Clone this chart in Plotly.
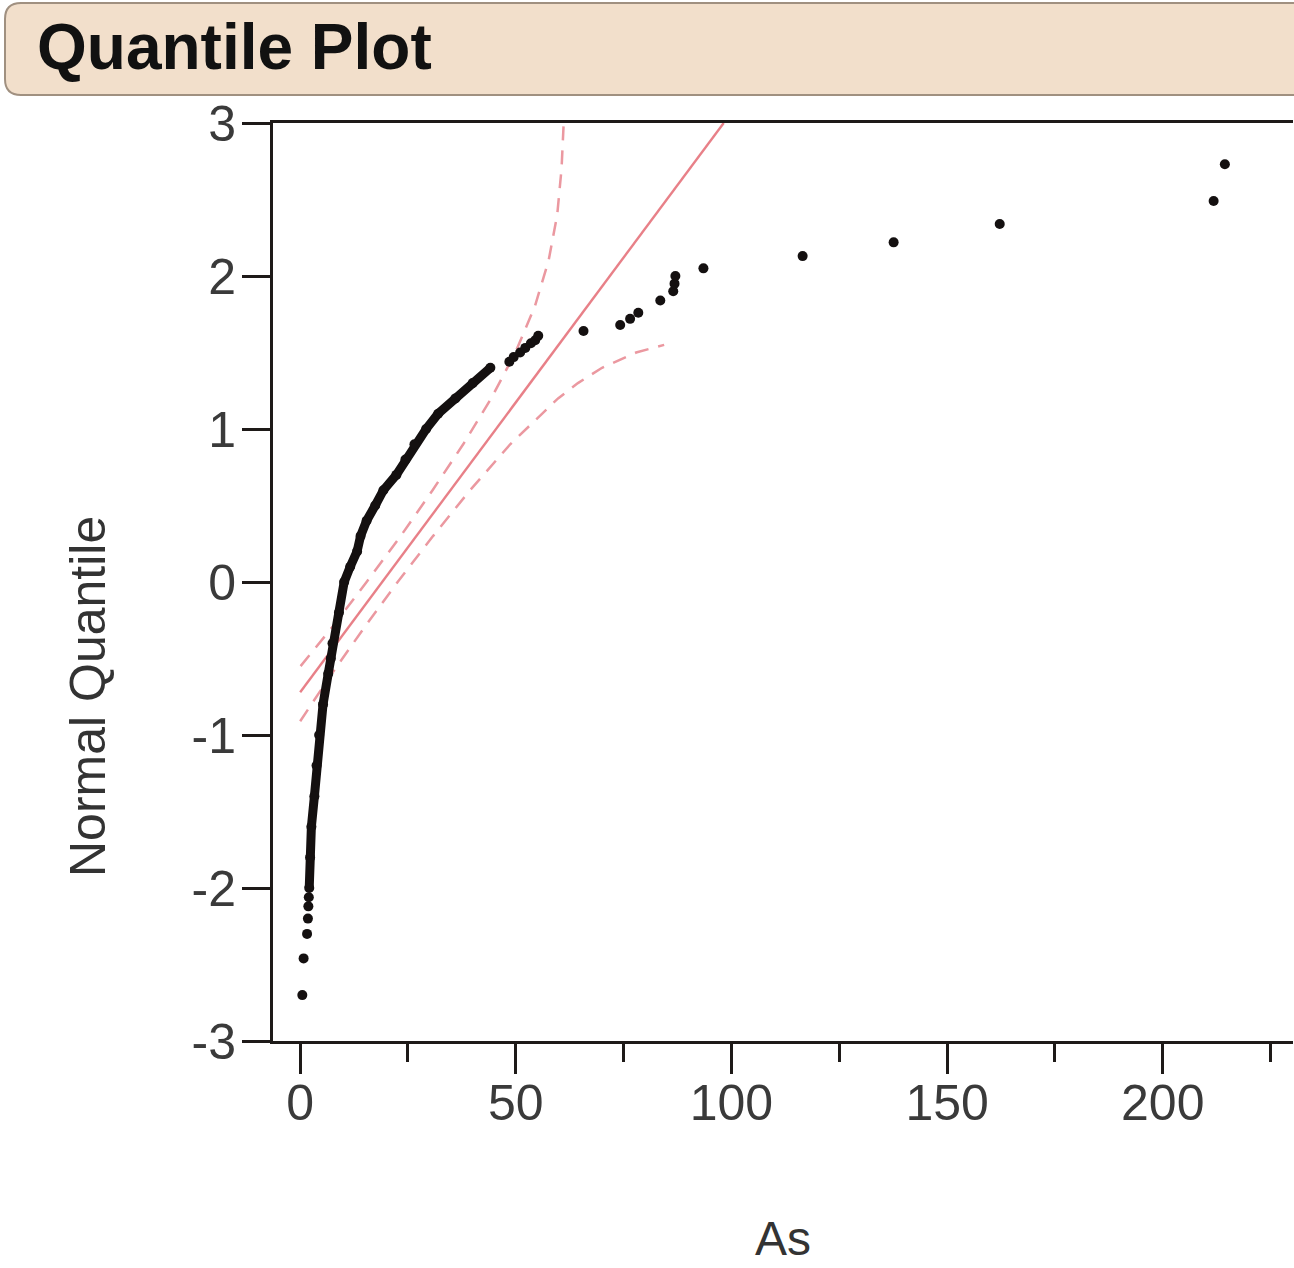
import plotly.graph_objects as go

# ---------------- data ----------------
# lowest isolated points
low_x = [0.5, 0.8, 1.6, 1.8, 1.9, 2.0]
low_y = [-2.70, -2.46, -2.30, -2.20, -2.12, -2.06]

# dense central part of the quantile curve
curve_x = [2.1, 2.3, 2.6, 3.3, 3.8, 4.4, 5.3, 6.5, 7.1, 7.5, 9.0, 10.2, 11.6,
           13.2, 14.0, 15.4, 17.4, 19.3, 22.3, 24.4, 26.5, 29.2, 32.0, 36.0,
           40.0, 44.1]
curve_y = [-2.00, -1.80, -1.60, -1.40, -1.20, -1.00, -0.80, -0.60, -0.50,
           -0.40, -0.20, 0.00, 0.10, 0.20, 0.30, 0.40, 0.50, 0.60, 0.70, 0.80,
           0.90, 1.00, 1.10, 1.20, 1.30, 1.40]

# upper cluster and upper tail
hi_x = [48.5, 49.5, 51.0, 52.2, 53.5, 54.5, 55.2, 65.7, 74.2, 76.5, 78.4, 83.5,
        86.5, 86.8, 87.0, 93.5, 116.5, 137.6, 162.2, 211.8, 214.4]
hi_y = [1.44, 1.47, 1.50, 1.53, 1.56, 1.58, 1.61, 1.64, 1.68, 1.72, 1.76, 1.84,
        1.90, 1.95, 2.00, 2.05, 2.13, 2.22, 2.34, 2.49, 2.73]

# normal fit reference line
fit_x = [0.0, 98.2]
fit_y = [-0.72, 3.0]

# confidence band (upper-left)
upper_x = [0.1, 7.3, 15.4, 23.3, 30.7, 37.8, 44.3, 49.9, 54.4, 57.6, 59.6, 60.6, 61.1]
upper_y = [-0.55, -0.30, 0.00, 0.30, 0.60, 0.90, 1.20, 1.50, 1.80, 2.10, 2.40, 2.70, 3.00]

# confidence band (lower-right)
lower_x = [0.0, 7.3, 14.8, 22.6, 30.8, 39.4, 48.7, 59.8, 64.4, 70.0, 77.9, 84.4]
lower_y = [-0.91, -0.60, -0.30, 0.00, 0.30, 0.60, 0.90, 1.20, 1.30, 1.40, 1.50, 1.55]

x_ticks = [0, 50, 100, 150, 200]
x_tick_text = ["0", "50", "100", "150", "200"]
x_minor = [25, 75, 125, 175, 225]
y_ticks = [-3, -2, -1, 0, 1, 2, 3]
y_tick_text = ["-3", "-2", "-1", "0", "1", "2", "3"]

# ---------------- figure ----------------
W, H = 1294, 1268
L, R, T, B = 273, 1293, 123, 1041   # plot area in pixels

def px(xp):
    return (xp - L) / (R - L)

def py(yp):
    return (B - yp) / (B - T)

RED = "#e88088"
RED_D = "#eb98a0"
BLK = "#141010"
AX = "#1e1a18"
FONT = "Liberation Sans, Arial, sans-serif"

fig = go.Figure()

fig.add_trace(go.Scatter(x=upper_x, y=upper_y, mode="lines",
                         line=dict(color=RED_D, width=2.5, dash="14px,10px"),
                         hoverinfo="skip", showlegend=False))
fig.add_trace(go.Scatter(x=lower_x, y=lower_y, mode="lines",
                         line=dict(color=RED_D, width=2.5, dash="14px,10px"),
                         hoverinfo="skip", showlegend=False))
fig.add_trace(go.Scatter(x=fit_x, y=fit_y, mode="lines",
                         line=dict(color=RED, width=2.4),
                         hoverinfo="skip", showlegend=False))

fig.add_trace(go.Scatter(x=curve_x, y=curve_y, mode="lines+markers",
                         line=dict(color=BLK, width=9),
                         marker=dict(color=BLK, size=10),
                         showlegend=False))
fig.add_trace(go.Scatter(x=low_x, y=low_y, mode="markers",
                         marker=dict(color=BLK, size=10),
                         showlegend=False))
fig.add_trace(go.Scatter(x=hi_x, y=hi_y, mode="markers",
                         marker=dict(color=BLK, size=10),
                         showlegend=False))

fig.update_xaxes(range=[-6.3, 230.2], tickmode="array", tickvals=x_ticks,
                 ticktext=x_tick_text,
                 ticks="outside", ticklen=30, tickwidth=3, tickcolor=AX,
                 ticklabelstandoff=-14,
                 showline=True, linewidth=3, linecolor=AX, mirror=True,
                 showgrid=False, zeroline=False,
                 tickfont=dict(family=FONT, size=50, color="#3a3a3a"),
                 minor=dict(tickmode="array", tickvals=x_minor, ticks="outside",
                            ticklen=18, tickwidth=3, tickcolor=AX, showgrid=False))
fig.update_yaxes(range=[-3, 3], tickmode="array", tickvals=y_ticks,
                 ticktext=y_tick_text,
                 ticks="outside", ticklen=28, tickwidth=3, tickcolor=AX,
                 ticklabelstandoff=-4,
                 showline=True, linewidth=3, linecolor=AX,
                 showgrid=False, zeroline=False,
                 tickfont=dict(family=FONT, size=50, color="#3a3a3a"))

# title bar with rounded corners (paper coordinates)
x0, x1 = px(5), px(1310)
y0, y1 = py(95), py(3)
rx, ry = 16 / (R - L), 16 / (B - T)
path = (f"M {x0+rx},{y1} L {x1},{y1} L {x1},{y0} L {x0+rx},{y0} "
        f"Q {x0},{y0} {x0},{y0+ry} L {x0},{y1-ry} Q {x0},{y1} {x0+rx},{y1} Z")
fig.add_shape(type="path", path=path, xref="paper", yref="paper",
              fillcolor="#f2dfcb", line=dict(color="#a09080", width=2),
              layer="below")

fig.add_annotation(text="<b>Quantile Plot</b>", xref="paper", yref="paper",
                   x=px(35), y=py(47), xanchor="left", yanchor="middle",
                   showarrow=False, font=dict(family=FONT, size=64, color="#111111"))
fig.add_annotation(text="Normal Quantile", xref="paper", yref="paper",
                   x=px(88), y=py(697), xanchor="center", yanchor="middle",
                   textangle=-90, showarrow=False,
                   font=dict(family=FONT, size=50, color="#333333"))
fig.add_annotation(text="As", xref="paper", yref="paper",
                   x=px(783), y=py(1238), xanchor="center", yanchor="middle",
                   showarrow=False, font=dict(family=FONT, size=48, color="#333333"))

fig.update_layout(width=W, height=H,
                  margin=dict(l=L, r=W - R, t=T, b=H - B, pad=0),
                  paper_bgcolor="white", plot_bgcolor="white",
                  showlegend=False)

fig.write_html("out.html")
